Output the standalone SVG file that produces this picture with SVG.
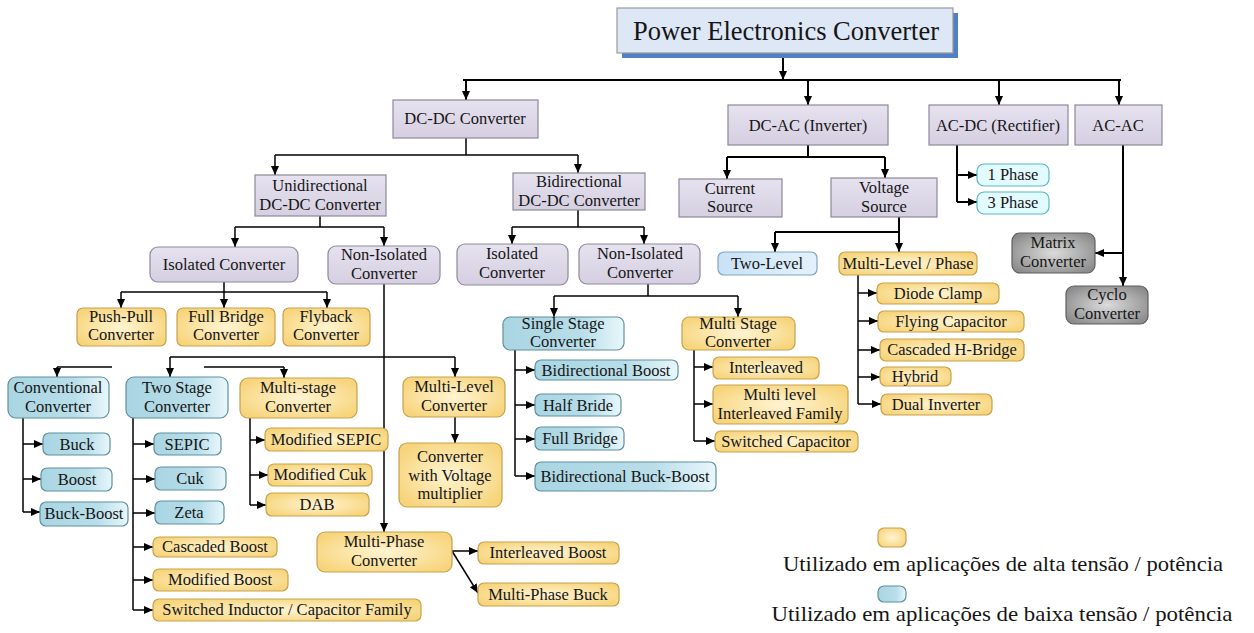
<svg xmlns="http://www.w3.org/2000/svg" width="1254" height="633" viewBox="0 0 1254 633">
<defs>
<linearGradient id="gLav" x1="0" y1="0" x2="0" y2="1"><stop offset="0" stop-color="#e6e2ef"/><stop offset="1" stop-color="#d5cfe1"/></linearGradient>
<radialGradient id="gYel" cx="0.5" cy="0.5" r="0.6"><stop offset="0" stop-color="#fff4d2"/><stop offset="1" stop-color="#f7d47a"/></radialGradient>
<linearGradient id="gBlu" x1="0" y1="0" x2="1" y2="0"><stop offset="0" stop-color="#a9d5e2"/><stop offset="0.65" stop-color="#b8dee9"/><stop offset="1" stop-color="#e9f7fb"/></linearGradient>
<linearGradient id="gTl" x1="0" y1="0" x2="1" y2="0"><stop offset="0" stop-color="#c8e2f6"/><stop offset="1" stop-color="#e4f1fb"/></linearGradient>
<radialGradient id="gGry" cx="0.5" cy="0.5" r="0.6"><stop offset="0" stop-color="#dcdcdc"/><stop offset="1" stop-color="#8c8c8c"/></radialGradient>
<marker id="ar" markerUnits="userSpaceOnUse" markerWidth="9" markerHeight="8" viewBox="0 0 9 8" refX="9" refY="4" orient="auto"><path d="M0,0 L9,4 L0,8 z" fill="#000"/></marker>
</defs>
<style>
.lav{fill:url(#gLav);stroke:#8d899c;stroke-width:1.2}
.yel{fill:url(#gYel);stroke:#c7a14c;stroke-width:1.2}
.blu{fill:url(#gBlu);stroke:#5f909f;stroke-width:1.2}
.tl{fill:url(#gTl);stroke:#7fa6c6;stroke-width:1.2}
.cyn{fill:#e2fbff;stroke:#5ab5c4;stroke-width:1.2}
.gry{fill:url(#gGry);stroke:#5f5f5f;stroke-width:1.2}
.top{fill:#dde7f6;stroke:#9a9a9a;stroke-width:1.2}
text{font-family:"Liberation Serif","Times New Roman",serif;fill:#151515}
.t{font-size:16.5px;text-anchor:middle}
.ttl{font-size:26.5px;text-anchor:middle}
.lg{font-size:22px;text-anchor:middle}
.c line,.c polyline{stroke:#000;fill:none;stroke-width:1.5}
.c .w{stroke-width:2}
.c .a{marker-end:url(#ar)}
</style>
<rect width="1254" height="633" fill="#fff"/>
<g class="c" id="connectors">
<line class="w a" x1="783" y1="53" x2="783" y2="80"/>
<line class="w" x1="463" y1="80" x2="1121" y2="80"/>
<line class="w a" x1="466" y1="80" x2="466" y2="100"/>
<line class="w a" x1="808" y1="80" x2="808" y2="105"/>
<line class="w a" x1="999" y1="80" x2="999" y2="105"/>
<line class="w a" x1="1119" y1="80" x2="1119" y2="105"/>
<line x1="466" y1="138" x2="466" y2="155"/>
<line x1="275" y1="155" x2="578" y2="155"/>
<line class="a" x1="275" y1="155" x2="275" y2="175"/>
<line class="a" x1="578" y1="155" x2="578" y2="173"/>
<line class="w" x1="808" y1="145" x2="808" y2="157"/>
<line class="w" x1="727" y1="157" x2="885" y2="157"/>
<line class="w a" x1="727" y1="157" x2="727" y2="179"/>
<line class="w a" x1="885" y1="157" x2="885" y2="178"/>
<line class="w a" x1="899" y1="217" x2="899" y2="252"/>
<line class="w" x1="775" y1="232" x2="899" y2="232"/>
<line class="w a" x1="775" y1="232" x2="775" y2="252"/>
<line x1="858" y1="275" x2="858" y2="404"/>
<line class="a" x1="858" y1="293" x2="877" y2="293"/>
<line class="a" x1="858" y1="321" x2="878" y2="321"/>
<line class="a" x1="858" y1="350" x2="880" y2="350"/>
<line class="a" x1="858" y1="377" x2="880" y2="377"/>
<line class="a" x1="858" y1="404" x2="881" y2="404"/>
<line class="w" x1="957" y1="145" x2="957" y2="202"/>
<line class="w a" x1="957" y1="175" x2="977" y2="175"/>
<line class="w a" x1="957" y1="202" x2="977" y2="202"/>
<line class="w a" x1="1123" y1="145" x2="1123" y2="286"/>
<line class="w a" x1="1123" y1="253" x2="1095" y2="253"/>
<line x1="320" y1="216" x2="320" y2="227"/>
<line x1="235" y1="227" x2="384" y2="227"/>
<line class="a" x1="235" y1="227" x2="235" y2="247"/>
<line class="a" x1="384" y1="227" x2="384" y2="246"/>
<line x1="578" y1="210" x2="578" y2="227"/>
<line x1="512" y1="227" x2="644" y2="227"/>
<line class="a" x1="512" y1="227" x2="512" y2="244"/>
<line class="a" x1="644" y1="227" x2="644" y2="244"/>
<line x1="224" y1="282" x2="224" y2="292"/>
<line x1="121" y1="292" x2="327" y2="292"/>
<line class="a" x1="121" y1="292" x2="121" y2="308"/>
<line class="a" x1="224" y1="292" x2="224" y2="308"/>
<line class="a" x1="327" y1="292" x2="327" y2="308"/>
<line class="a" x1="384" y1="284" x2="384" y2="532"/>
<line x1="170" y1="357" x2="455" y2="357"/>
<line class="a" x1="170" y1="357" x2="170" y2="377"/>
<line class="a" x1="455" y1="357" x2="455" y2="377"/>
<line x1="57" y1="367" x2="112" y2="367"/>
<line class="a" x1="57" y1="367" x2="57" y2="377"/>
<line x1="204" y1="367" x2="284" y2="367"/>
<line class="a" x1="284" y1="367" x2="284" y2="378"/>
<line x1="23" y1="418" x2="23" y2="512"/>
<line class="a" x1="23" y1="444" x2="43" y2="444"/>
<line class="a" x1="23" y1="479" x2="41" y2="479"/>
<line class="a" x1="23" y1="512" x2="40" y2="512"/>
<line x1="133" y1="418" x2="133" y2="610"/>
<line class="a" x1="133" y1="444" x2="154" y2="444"/>
<line class="a" x1="133" y1="479" x2="155" y2="479"/>
<line class="a" x1="133" y1="513" x2="155" y2="513"/>
<line class="a" x1="133" y1="547" x2="153" y2="547"/>
<line class="a" x1="133" y1="580" x2="153" y2="580"/>
<line class="a" x1="133" y1="610" x2="153" y2="610"/>
<line x1="250" y1="418" x2="250" y2="505"/>
<line class="a" x1="250" y1="440" x2="265" y2="440"/>
<line class="a" x1="250" y1="475" x2="268" y2="475"/>
<line class="a" x1="250" y1="505" x2="266" y2="505"/>
<line class="a" x1="455" y1="417" x2="455" y2="443"/>
<line class="a" x1="452" y1="551" x2="478" y2="551"/>
<line class="a" x1="452" y1="551" x2="478" y2="593"/>
<line x1="648" y1="284" x2="648" y2="296"/>
<line x1="554" y1="296" x2="738" y2="296"/>
<line class="a" x1="554" y1="296" x2="554" y2="317"/>
<line class="a" x1="738" y1="296" x2="738" y2="317"/>
<line x1="515" y1="350" x2="515" y2="476"/>
<line class="a" x1="515" y1="370" x2="535" y2="370"/>
<line class="a" x1="515" y1="405" x2="535" y2="405"/>
<line class="a" x1="515" y1="439" x2="535" y2="439"/>
<line class="a" x1="515" y1="476" x2="535" y2="476"/>
<line x1="694" y1="350" x2="694" y2="441"/>
<line class="a" x1="694" y1="367" x2="713" y2="367"/>
<line class="a" x1="694" y1="404" x2="713" y2="404"/>
<line class="a" x1="694" y1="441" x2="715" y2="441"/>
</g>
<g id="n-root"><rect x="622" y="13" width="336" height="45" fill="#4f7fc6"/><rect class="top" x="617" y="8" width="336" height="45"/><text class="ttl" x="786" y="40">Power Electronics Converter</text></g>
<g id="n-dcdc"><rect class="lav" x="393" y="100" width="145" height="38"/><text class="t" x="465" y="124">DC-DC Converter</text></g>
<g id="n-dcac"><rect class="lav" x="728" y="105" width="160" height="40"/><text class="t" x="808" y="131">DC-AC (Inverter)</text></g>
<g id="n-acdc"><rect class="lav" x="929" y="105" width="139" height="40"/><text class="t" x="998" y="131">AC-DC (Rectifier)</text></g>
<g id="n-acac"><rect class="lav" x="1075" y="105" width="87" height="40"/><text class="t" x="1118" y="131">AC-AC</text></g>
<g id="n-uni"><rect class="lav" x="255" y="175" width="131" height="41"/><text class="t" x="320" y="191">Unidirectional</text><text class="t" x="320" y="210">DC-DC Converter</text></g>
<g id="n-bi"><rect class="lav" x="513" y="173" width="132" height="37"/><text class="t" x="579" y="187">Bidirectional</text><text class="t" x="579" y="206">DC-DC Converter</text></g>
<g id="n-cs"><rect class="lav" x="679" y="179" width="103" height="38"/><text class="t" x="730" y="194">Current</text><text class="t" x="730" y="212">Source</text></g>
<g id="n-vs"><rect class="lav" x="831" y="178" width="106" height="39"/><text class="t" x="884" y="193">Voltage</text><text class="t" x="884" y="212">Source</text></g>
<g id="n-iso1"><rect class="lav" x="150" y="247" width="148" height="35" rx="8"/><text class="t" x="224" y="270">Isolated Converter</text></g>
<g id="n-niso1"><rect class="lav" x="328" y="246" width="112" height="38" rx="8"/><text class="t" x="384" y="260">Non-Isolated</text><text class="t" x="384" y="279">Converter</text></g>
<g id="n-iso2"><rect class="lav" x="457" y="244" width="111" height="41" rx="8"/><text class="t" x="512" y="259">Isolated</text><text class="t" x="512" y="278">Converter</text></g>
<g id="n-niso2"><rect class="lav" x="579" y="244" width="121" height="40" rx="8"/><text class="t" x="640" y="259">Non-Isolated</text><text class="t" x="640" y="278">Converter</text></g>
<g id="n-pp"><rect class="yel" x="77" y="308" width="89" height="38" rx="6"/><text class="t" x="121" y="322">Push-Pull</text><text class="t" x="121" y="340">Converter</text></g>
<g id="n-fb"><rect class="yel" x="177" y="308" width="98" height="38" rx="6"/><text class="t" x="226" y="322">Full Bridge</text><text class="t" x="226" y="340">Converter</text></g>
<g id="n-fly"><rect class="yel" x="283" y="308" width="87" height="38" rx="6"/><text class="t" x="326" y="322">Flyback</text><text class="t" x="326" y="340">Converter</text></g>
<g id="n-2l"><rect class="tl" x="718" y="252" width="99" height="23" rx="6"/><text class="t" x="767" y="269">Two-Level</text></g>
<g id="n-mlp"><rect class="yel" x="839" y="252" width="138" height="23" rx="6"/><text class="t" x="908" y="269">Multi-Level / Phase</text></g>
<g id="n-dc"><rect class="yel" x="877" y="283" width="122" height="21" rx="6"/><text class="t" x="938" y="299">Diode Clamp</text></g>
<g id="n-fc"><rect class="yel" x="878" y="311" width="146" height="21" rx="6"/><text class="t" x="951" y="327">Flying Capacitor</text></g>
<g id="n-chb"><rect class="yel" x="880" y="339" width="144" height="22" rx="6"/><text class="t" x="952" y="355">Cascaded H-Bridge</text></g>
<g id="n-hyb"><rect class="yel" x="880" y="367" width="71" height="19" rx="6"/><text class="t" x="915" y="382">Hybrid</text></g>
<g id="n-dual"><rect class="yel" x="881" y="394" width="111" height="21" rx="6"/><text class="t" x="936" y="410">Dual Inverter</text></g>
<g id="n-1ph"><rect class="cyn" x="977" y="164" width="72" height="22" rx="7"/><text class="t" x="1013" y="180">1 Phase</text></g>
<g id="n-3ph"><rect class="cyn" x="977" y="192" width="72" height="22" rx="7"/><text class="t" x="1013" y="208">3 Phase</text></g>
<g id="n-matrix"><rect class="gry" x="1012" y="233" width="83" height="40" rx="8"/><text class="t" x="1053" y="248">Matrix</text><text class="t" x="1053" y="267">Converter</text></g>
<g id="n-cyclo"><rect class="gry" x="1066" y="286" width="82" height="38" rx="8"/><text class="t" x="1107" y="300">Cyclo</text><text class="t" x="1107" y="319">Converter</text></g>
<g id="n-ss"><rect class="blu" x="503" y="317" width="121" height="33" rx="7"/><text class="t" x="563" y="329">Single Stage</text><text class="t" x="563" y="347">Converter</text></g>
<g id="n-ms"><rect class="yel" x="682" y="317" width="113" height="33" rx="7"/><text class="t" x="738" y="329">Multi Stage</text><text class="t" x="738" y="347">Converter</text></g>
<g id="n-bb"><rect class="blu" x="535" y="360" width="143" height="20" rx="6"/><text class="t" x="606" y="376">Bidirectional Boost</text></g>
<g id="n-hb"><rect class="blu" x="535" y="394" width="86" height="22" rx="6"/><text class="t" x="578" y="411">Half Bride</text></g>
<g id="n-fb2"><rect class="blu" x="535" y="427" width="89" height="23" rx="6"/><text class="t" x="580" y="444">Full Bridge</text></g>
<g id="n-bbb"><rect class="blu" x="535" y="462" width="181" height="29" rx="6"/><text class="t" x="625" y="482">Bidirectional Buck-Boost</text></g>
<g id="n-il"><rect class="yel" x="713" y="357" width="106" height="22" rx="6"/><text class="t" x="766" y="373">Interleaved</text></g>
<g id="n-mlif"><rect class="yel" x="713" y="385" width="135" height="39" rx="6"/><text class="t" x="780" y="400">Multi level</text><text class="t" x="780" y="419">Interleaved Family</text></g>
<g id="n-sc"><rect class="yel" x="715" y="431" width="143" height="21" rx="6"/><text class="t" x="786" y="447">Switched Capacitor</text></g>
<g id="n-conv"><rect class="blu" x="8" y="377" width="101" height="41" rx="8"/><text class="t" x="58" y="393">Conventional</text><text class="t" x="58" y="412">Converter</text></g>
<g id="n-2s"><rect class="blu" x="126" y="377" width="102" height="41" rx="8"/><text class="t" x="177" y="393">Two Stage</text><text class="t" x="177" y="412">Converter</text></g>
<g id="n-mst"><rect class="yel" x="240" y="378" width="117" height="40" rx="8"/><text class="t" x="298" y="393">Multi-stage</text><text class="t" x="298" y="412">Converter</text></g>
<g id="n-mlc"><rect class="yel" x="403" y="377" width="102" height="40" rx="8"/><text class="t" x="454" y="392">Multi-Level</text><text class="t" x="454" y="411">Converter</text></g>
<g id="n-cvm"><rect class="yel" x="399" y="443" width="103" height="64" rx="8"/><text class="t" x="450" y="462">Converter</text><text class="t" x="450" y="481">with Voltage</text><text class="t" x="450" y="499">multiplier</text></g>
<g id="n-buck"><rect class="blu" x="43" y="433" width="67" height="22" rx="6"/><text class="t" x="77" y="450">Buck</text></g>
<g id="n-boost"><rect class="blu" x="41" y="468" width="71" height="23" rx="6"/><text class="t" x="77" y="485">Boost</text></g>
<g id="n-buckboost"><rect class="blu" x="40" y="502" width="88" height="24" rx="6"/><text class="t" x="84" y="519">Buck-Boost</text></g>
<g id="n-sepic"><rect class="blu" x="154" y="433" width="67" height="22" rx="6"/><text class="t" x="187" y="450">SEPIC</text></g>
<g id="n-cuk"><rect class="blu" x="155" y="467" width="71" height="23" rx="6"/><text class="t" x="190" y="484">Cuk</text></g>
<g id="n-zeta"><rect class="blu" x="155" y="501" width="69" height="23" rx="6"/><text class="t" x="189" y="518">Zeta</text></g>
<g id="n-cb"><rect class="yel" x="153" y="537" width="124" height="20" rx="6"/><text class="t" x="215" y="552">Cascaded Boost</text></g>
<g id="n-mb"><rect class="yel" x="153" y="569" width="135" height="22" rx="6"/><text class="t" x="220" y="585">Modified Boost</text></g>
<g id="n-sicf"><rect class="yel" x="153" y="599" width="268" height="22" rx="6"/><text class="t" x="287" y="615">Switched Inductor / Capacitor Family</text></g>
<g id="n-msepic"><rect class="yel" x="265" y="428" width="123" height="23" rx="6"/><text class="t" x="326" y="445">Modified SEPIC</text></g>
<g id="n-mcuk"><rect class="yel" x="268" y="464" width="104" height="22" rx="6"/><text class="t" x="320" y="480">Modified Cuk</text></g>
<g id="n-dab"><rect class="yel" x="266" y="493" width="103" height="23" rx="6"/><text class="t" x="317" y="510">DAB</text></g>
<g id="n-mpc"><rect class="yel" x="317" y="532" width="135" height="40" rx="8"/><text class="t" x="384" y="547">Multi-Phase</text><text class="t" x="384" y="566">Converter</text></g>
<g id="n-ib"><rect class="yel" x="478" y="542" width="141" height="22" rx="6"/><text class="t" x="548" y="558">Interleaved Boost</text></g>
<g id="n-mpb"><rect class="yel" x="478" y="583" width="141" height="23" rx="6"/><text class="t" x="548" y="600">Multi-Phase Buck</text></g>
<g id="legend">
<rect class="yel" x="878" y="528" width="28" height="19" rx="6"/>
<text class="lg" x="1003" y="571" textLength="440" lengthAdjust="spacingAndGlyphs">Utilizado em aplicações de alta tensão / potência</text>
<rect class="blu" x="878" y="586" width="28" height="16" rx="6"/>
<text class="lg" x="1002" y="621" textLength="461" lengthAdjust="spacingAndGlyphs">Utilizado em aplicações de baixa tensão / potência</text>
</g>
</svg>
